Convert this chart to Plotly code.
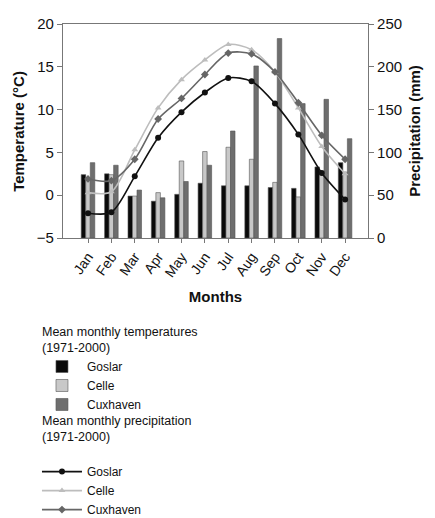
import plotly.graph_objects as go

months = ["Jan", "Feb", "Mar", "Apr", "May", "Jun",
          "Jul", "Aug", "Sep", "Oct", "Nov", "Dec"]

# Monthly precipitation (mm), 1971-2000
prec_goslar = [74, 75, 49, 43, 51, 64, 61, 61, 59, 58, 83, 88]
prec_celle = [70, 74, 49, 53, 90, 101, 106, 92, 65, 48, 76, 77]
prec_cuxhaven = [88, 85, 56, 47, 66, 85, 125, 201, 233, 157, 162, 116]

# Monthly mean temperature (°C), 1971-2000
temp_goslar = [-2.1, -2.0, 2.2, 6.7, 9.7, 12.0, 13.7, 13.3, 10.7, 7.1, 2.6, -0.5]
temp_celle = [0.3, 0.4, 5.3, 10.2, 13.5, 15.8, 17.6, 17.0, 14.4, 10.2, 5.7, 2.5]
temp_cuxhaven = [1.9, 1.7, 4.2, 8.9, 11.3, 14.1, 16.6, 16.5, 14.4, 10.8, 7.0, 4.2]

stations = ["Goslar", "Celle", "Cuxhaven"]
bar_colors = ["#0a0a0a", "#c8c8c8", "#6e6e6e"]
line_colors = ["#111111", "#bdbdbd", "#666666"]
symbols = ["circle", "triangle-up", "diamond"]

FONT = "Arial, Liberation Sans, sans-serif"

fig = go.Figure()

bar_group_title = "Mean monthly temperatures<br>(1971-2000)"
line_group_title = "Mean monthly precipitation<br>(1971-2000)<br> "

for name, vals, col in zip(stations, [prec_goslar, prec_celle, prec_cuxhaven], bar_colors):
    fig.add_trace(go.Bar(
        x=months, y=vals, name=name, yaxis="y",
        marker=dict(color=col, line=dict(color="#555555", width=0.6)),
        legend="legend", legendgroup="bars",
        legendgrouptitle=dict(text=bar_group_title, font=dict(size=12.5, color="#111")),
    ))

for name, vals, col, sym in zip(stations, [temp_goslar, temp_celle, temp_cuxhaven],
                                line_colors, symbols):
    fig.add_trace(go.Scatter(
        x=months, y=vals, name=name, yaxis="y2",
        mode="lines+markers",
        line=dict(color=col, width=1.6, shape="spline", smoothing=0.8),
        marker=dict(symbol=sym, size=6, color=col),
        legend="legend2", legendgroup="lines",
        legendgrouptitle=dict(text=line_group_title, font=dict(size=12.5, color="#111")),
    ))

legend_style = dict(
    xref="container", yref="container",
    x=0.085, xanchor="left", yanchor="top",
    traceorder="grouped", itemwidth=40,
    font=dict(size=12, color="#111"),
    bgcolor="rgba(0,0,0,0)",
)

fig.update_layout(
    width=435, height=518,
    margin=dict(l=63, r=67, t=24, b=280, autoexpand=False),
    paper_bgcolor="white", plot_bgcolor="white",
    font=dict(family=FONT, size=12.5, color="#111"),
    barmode="group", bargap=0.42, bargroupgap=0.0,
    showlegend=True,
    legend=dict(y=0.389, **legend_style),
    legend2=dict(y=0.2175, **legend_style),
    xaxis=dict(
        type="category", range=[-1.07, 11.98],
        showline=True, linecolor="#777", linewidth=1.2, mirror=True,
        ticks="outside", ticklen=4, tickcolor="#777",
        tickangle=-55, tickfont=dict(size=14, color="#111"),
        title=dict(text="<b>Months</b>", font=dict(size=15, color="#111"), standoff=12),
        showgrid=False,
    ),
    yaxis=dict(
        side="right", range=[0, 250], dtick=50,
        showline=True, linecolor="#777", linewidth=1.2,
        ticks="outside", ticklen=5, tickcolor="#777",
        tickfont=dict(size=15, color="#111"),
        title=dict(text="<b>Precipitation (mm)</b>", font=dict(size=15, color="#111"), standoff=8),
        showgrid=False, zeroline=False,
    ),
    yaxis2=dict(
        overlaying="y", side="left", range=[-5, 20], dtick=5,
        showline=True, linecolor="#777", linewidth=1.2,
        ticks="outside", ticklen=5, tickcolor="#777",
        tickfont=dict(size=15, color="#111"),
        showgrid=False, zeroline=False,
    ),
    annotations=[dict(
        text="<b>Temperature (°C)</b>", textangle=-90,
        xref="paper", yref="paper", x=-0.148, y=0.5,
        xanchor="center", yanchor="middle", showarrow=False,
        font=dict(size=15, color="#111"),
    )],
)

fig.write_html("out.html")
